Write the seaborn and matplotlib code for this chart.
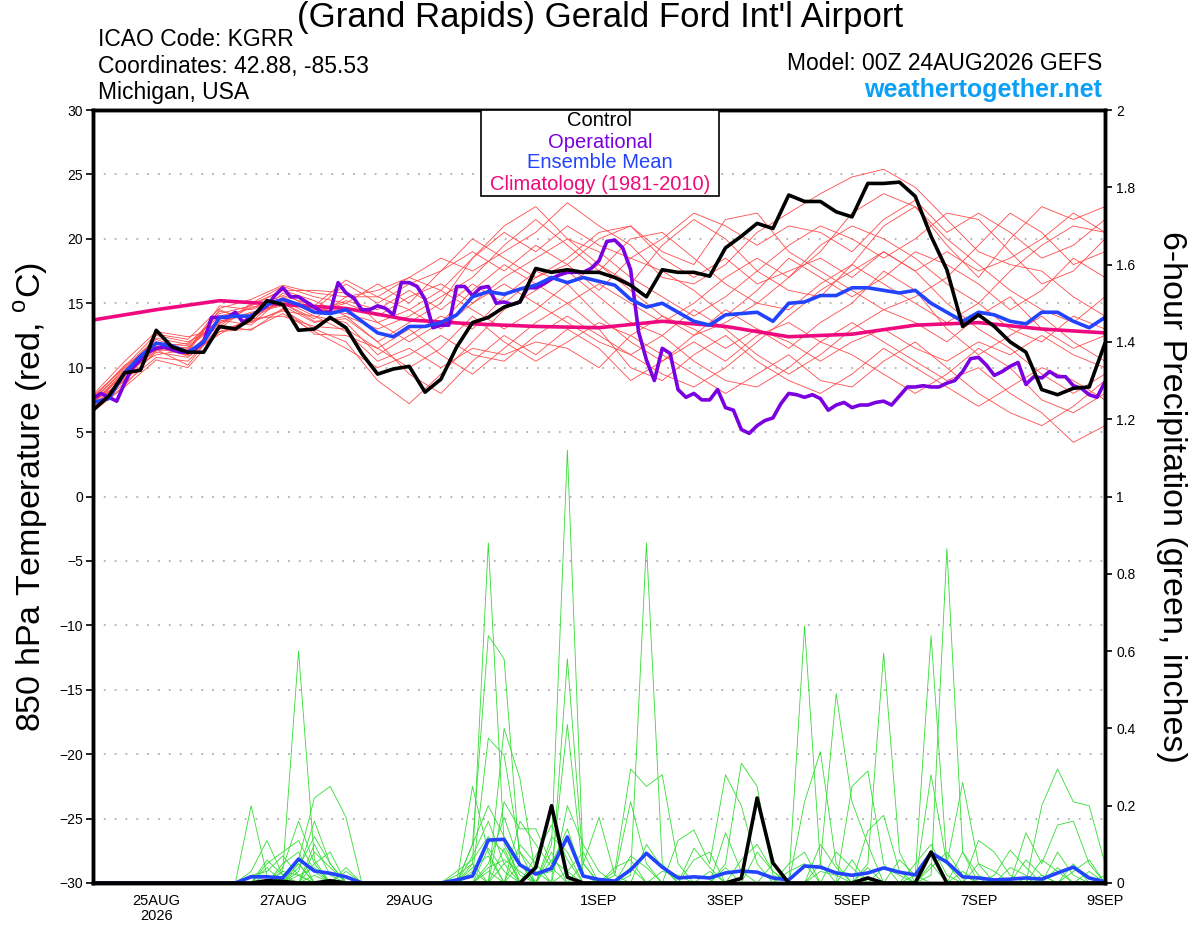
import numpy as np
import pandas as pd
import matplotlib
matplotlib.use("Agg")
import matplotlib.pyplot as plt
import seaborn as sns
from matplotlib.patches import Rectangle

# ------------------------
# 1. Data
# ------------------------
hours_3h = np.arange(0, 385, 3)
hours_6h = np.arange(0, 385, 6)
hours_12h = np.arange(0, 385, 12)
clim_hours = np.arange(0, 385, 24)

tick_hours = [24, 72, 120, 192, 240, 288, 336, 384]
tick_labels = ["25AUG\n2026", "27AUG", "29AUG", "1SEP", "3SEP", "5SEP", "7SEP", "9SEP"]

control_temp = [6.7, 7.8, 9.6, 9.8, 12.9, 11.6, 11.2, 11.2, 13.2, 13.0,
                13.8, 15.2, 14.9, 12.9, 13.0, 13.9, 13.1, 11.1, 9.5, 9.9,
                10.1, 8.1, 9.1, 11.6, 13.5, 13.9, 14.7, 15.1, 17.7, 17.4,
                17.6, 17.4, 17.4, 17.0, 16.4, 15.5, 17.6, 17.4, 17.4, 17.1,
                19.3, 20.2, 21.2, 20.8, 23.4, 22.9, 22.9, 22.1, 21.7, 24.3,
                24.3, 24.4, 23.3, 20.2, 17.6, 13.2, 14.1, 13.2, 12.0, 11.2,
                8.3, 7.9, 8.4, 8.5, 11.9]

mean_temp = [7.3, 7.6, 9.6, 10.9, 11.9, 11.7, 11.2, 12.0, 13.9, 14.0,
             14.0, 14.9, 15.3, 14.9, 14.3, 14.2, 14.5, 13.6, 12.7, 12.4,
             13.2, 13.2, 13.5, 14.1, 15.5, 15.9, 15.7, 16.1, 16.4, 17.0,
             16.6, 17.0, 16.7, 16.4, 15.3, 14.7, 15.0, 14.3, 13.6, 13.3,
             14.1, 14.2, 14.3, 13.6, 15.0, 15.1, 15.6, 15.6, 16.2, 16.2,
             16.0, 15.8, 16.0, 15.0, 14.3, 13.6, 14.3, 14.1, 13.6, 13.4,
             14.3, 14.3, 13.6, 13.1, 13.9]

oper_temp = [7.6, 8.0, 7.7, 7.4, 8.8, 10.0, 10.6, 11.2, 11.5, 11.6,
             11.4, 11.2, 11.2, 11.5, 12.0, 13.9, 13.9, 13.9, 14.3, 13.5,
             14.0, 14.4, 14.8, 15.6, 16.2, 15.5, 15.5, 15.1, 14.7, 14.3,
             14.3, 16.6, 15.8, 15.4, 14.5, 14.5, 14.8, 14.6, 14.1, 16.6,
             16.6, 16.3, 15.3, 13.1, 13.3, 13.3, 16.3, 16.3, 15.6, 16.2,
             16.3, 15.0, 15.1, 14.9, 15.1, 16.2, 16.2, 16.5, 16.9, 17.2,
             17.4, 17.4, 17.4, 17.7, 18.3, 19.8, 19.9, 19.3, 17.6, 12.8,
             10.6, 9.0, 11.5, 11.1, 8.3, 7.7, 8.0, 7.5, 7.5, 8.3,
             6.9, 6.7, 5.2, 4.9, 5.5, 5.9, 6.1, 7.2, 8.0, 7.9,
             7.7, 7.9, 7.6, 6.7, 7.1, 7.3, 6.9, 7.1, 7.1, 7.3,
             7.4, 7.1, 7.8, 8.5, 8.5, 8.6, 8.5, 8.5, 8.8, 9.0,
             9.7, 10.7, 10.8, 10.2, 9.4, 9.7, 10.1, 10.4, 8.7, 9.3,
             9.2, 9.7, 9.3, 9.3, 8.6, 8.4, 7.9, 7.7, 8.9]

clim_temp = [13.7, 14.5, 15.2, 14.9, 14.6, 13.7, 13.4, 13.2, 13.1,
             13.6, 13.2, 12.4, 12.6, 13.3, 13.5, 13.0, 12.7]

member_temp = {
    "m01": [7.0, 9.2, 11.5, 11.0, 13.5, 14.2, 15.0, 13.8, 15.5, 16.0, 17.0, 18.5, 17.5, 19.0, 20.5, 22.8, 21.0,
            19.5, 17.0, 16.5, 18.0, 20.5, 22.0, 23.5, 24.8, 25.4, 24.0, 21.5, 19.0, 18.0, 17.5, 15.5, 14.0],
    "m02": [7.8, 10.0, 12.3, 11.8, 14.2, 14.8, 16.0, 15.2, 14.0, 12.0, 13.5, 15.0, 18.5, 21.0, 22.5, 20.0, 18.0,
            16.5, 19.5, 21.5, 20.0, 17.5, 16.0, 15.5, 18.0, 21.0, 22.5, 19.5, 17.0, 20.0, 22.5, 21.5, 22.5],
    "m03": [6.8, 8.8, 10.8, 10.5, 13.0, 13.5, 14.5, 13.0, 12.0, 9.0, 7.2, 9.5, 12.0, 14.5, 16.0, 17.5, 15.5,
            13.5, 12.5, 10.5, 9.0, 8.5, 10.0, 12.0, 11.0, 9.5, 8.0, 9.5, 11.5, 10.0, 7.5, 6.5, 8.0],
    "m04": [7.5, 9.8, 12.0, 11.2, 14.5, 13.5, 15.8, 14.5, 16.5, 15.0, 16.5, 17.5, 20.0, 18.5, 17.0, 18.5, 20.5,
            21.0, 19.0, 18.0, 21.5, 22.0, 19.0, 17.5, 16.0, 14.5, 15.5, 17.0, 19.5, 22.0, 20.5, 18.0, 19.0],
    "m05": [7.2, 9.5, 11.8, 11.5, 13.8, 14.0, 15.2, 14.0, 13.5, 11.0, 12.5, 14.0, 13.0, 15.5, 17.5, 16.5, 14.0,
            12.0, 10.5, 12.5, 14.5, 13.0, 11.5, 13.5, 15.0, 17.5, 16.0, 13.0, 11.0, 12.5, 14.0, 12.0, 10.5],
    "m06": [7.4, 9.4, 12.5, 12.0, 13.2, 15.0, 16.3, 15.5, 15.0, 14.0, 15.5, 16.5, 15.0, 17.0, 18.5, 20.0, 19.0,
            17.0, 15.5, 14.0, 15.5, 17.5, 19.5, 21.0, 20.0, 18.5, 20.0, 22.0, 21.5, 19.0, 16.5, 17.5, 20.0],
    "m07": [6.9, 9.0, 11.2, 10.8, 12.8, 13.0, 14.2, 12.8, 11.5, 10.0, 11.0, 12.5, 11.0, 10.5, 12.5, 14.0, 12.5,
            11.0, 9.5, 8.5, 10.0, 12.0, 14.0, 16.0, 17.5, 19.0, 17.5, 15.0, 13.0, 11.5, 9.5, 8.0, 9.5],
    "m08": [7.6, 10.2, 11.6, 11.9, 14.0, 14.6, 15.6, 14.8, 16.8, 15.5, 14.5, 13.0, 15.0, 16.5, 15.0, 13.5, 12.0,
            11.0, 12.5, 14.5, 13.0, 11.0, 9.5, 11.0, 13.0, 14.5, 13.5, 12.0, 14.0, 15.5, 13.0, 11.5, 12.5],
    "m09": [7.1, 9.1, 12.0, 11.0, 13.6, 14.3, 14.8, 13.5, 14.0, 13.0, 14.0, 15.5, 17.0, 19.5, 21.5, 19.5, 17.5,
            20.0, 20.5, 18.5, 16.5, 15.0, 17.0, 19.0, 22.0, 23.5, 22.5, 20.0, 18.0, 16.0, 14.5, 13.5, 15.5],
    "m10": [7.3, 9.7, 11.0, 11.4, 14.4, 13.8, 14.0, 13.2, 13.0, 11.5, 10.0, 11.5, 14.0, 12.0, 10.5, 12.0, 13.5,
            12.5, 11.0, 9.5, 8.0, 9.5, 11.0, 9.0, 8.5, 10.5, 12.0, 10.0, 8.0, 6.5, 5.5, 7.0, 9.0],
    "m11": [7.9, 10.5, 12.8, 12.4, 13.0, 14.9, 16.0, 16.0, 15.8, 13.5, 12.0, 13.5, 16.0, 18.0, 16.5, 15.0, 16.5,
            15.0, 13.5, 15.0, 17.0, 18.5, 17.0, 19.5, 21.0, 20.0, 18.5, 16.5, 15.0, 17.5, 19.5, 21.0, 20.5],
    "m12": [6.7, 8.6, 11.4, 10.2, 13.3, 12.9, 14.6, 12.6, 12.5, 11.5, 13.0, 11.0, 9.5, 11.5, 13.5, 15.0, 13.0,
            10.0, 9.0, 11.0, 12.5, 10.5, 9.0, 8.0, 9.5, 11.5, 10.0, 8.5, 7.0, 8.5, 10.0, 9.0, 7.5],
    "m13": [7.5, 9.9, 12.2, 11.3, 14.8, 14.5, 15.4, 14.2, 15.2, 14.5, 16.0, 14.5, 16.5, 15.0, 17.0, 18.0, 16.0,
            18.5, 17.5, 16.0, 14.0, 16.0, 18.5, 17.0, 15.5, 17.0, 19.0, 18.0, 16.5, 14.5, 16.0, 18.5, 17.0],
    "m14": [7.0, 9.3, 11.7, 10.9, 12.6, 13.9, 15.0, 13.6, 13.8, 12.0, 9.5, 8.0, 10.5, 12.5, 11.0, 13.0, 11.5,
            9.0, 10.5, 12.0, 10.5, 12.5, 13.5, 12.0, 13.5, 12.0, 10.5, 9.0, 10.0, 8.0, 6.5, 4.2, 5.5],
    "m15": [7.7, 10.1, 12.6, 12.2, 14.6, 15.3, 16.4, 15.8, 15.5, 15.5, 17.0, 16.0, 18.5, 20.5, 19.0, 21.0, 19.5,
            18.5, 20.0, 22.0, 21.0, 19.5, 21.0, 20.5, 19.0, 21.5, 23.0, 20.5, 22.0, 20.5, 18.5, 19.5, 21.5],
    "m16": [7.2, 9.6, 11.3, 11.6, 13.4, 14.7, 15.1, 14.6, 14.2, 13.5, 14.5, 16.0, 14.5, 13.0, 14.5, 16.5, 18.0,
            16.0, 14.0, 12.5, 13.5, 15.0, 14.5, 16.5, 18.0, 16.5, 15.0, 13.5, 15.0, 13.0, 12.0, 14.0, 13.0],
    "m17": [7.4, 9.0, 11.9, 11.7, 13.7, 13.3, 15.5, 14.3, 15.0, 16.5, 15.0, 17.5, 19.0, 17.5, 19.5, 18.0, 20.0,
            21.0, 18.5, 17.0, 18.5, 16.5, 17.5, 18.5, 17.0, 19.0, 17.5, 19.0, 17.5, 18.5, 20.0, 22.0, 20.5],
    "m18": [6.6, 8.5, 10.6, 10.0, 12.8, 13.6, 14.4, 14.0, 12.8, 10.5, 11.5, 10.0, 11.5, 11.0, 12.0, 11.5, 10.0,
            12.5, 14.0, 13.0, 11.5, 13.0, 12.0, 10.5, 12.0, 13.0, 11.5, 10.5, 12.0, 11.0, 12.5, 11.0, 10.0],
}

# 6-hour precip, ensemble mean (inches)
mean_precip = [0, 0, 0, 0, 0, 0, 0, 0, 0, 0,
               0.016, 0.016, 0.013, 0.062, 0.031, 0.025, 0.016,
               0, 0, 0, 0, 0, 0,
               0.008, 0.018, 0.111, 0.113, 0.047, 0.023, 0.038, 0.119, 0.018, 0.009,
               0.005, 0.034, 0.077, 0.041, 0.013, 0.016, 0.013, 0.026, 0.031, 0.028,
               0.013, 0.008, 0.044, 0.041, 0.026, 0.020, 0.026, 0.039, 0.028, 0.021,
               0.078, 0.054, 0.016, 0.013, 0.008, 0.010, 0.013, 0.010, 0.026, 0.041,
               0.013, 0.003]

# control precip: step index -> inches (dry otherwise)
control_precip = {11: 0.006, 12: 0.004, 15: 0.006, 28: 0.04, 29: 0.2, 30: 0.015,
                  41: 0.012, 42: 0.22, 43: 0.052, 49: 0.013, 53: 0.08}

# member precip: step index -> inches (dry otherwise)
member_precip = {
    "g01": {12: 0.03, 13: 0.60, 14: 0.06, 24: 0.05, 25: 0.88, 26: 0.10, 27: 0.02, 45: 0.665, 46: 0.05, 61: 0.04},
    "g02": {10: 0.03, 11: 0.11, 12: 0.02, 29: 0.1, 30: 1.12, 31: 0.05, 52: 0.02, 53: 0.64, 54: 0.05, 60: 0.02},
    "g03": {13: 0.06, 14: 0.22, 15: 0.25, 16: 0.17, 24: 0.1, 25: 0.64, 26: 0.58, 27: 0.05, 34: 0.02, 35: 0.88,
            36: 0.05, 55: 0.03},
    "g04": {10: 0.20, 11: 0.02, 24: 0.02, 25: 0.375, 26: 0.33, 27: 0.08, 30: 0.58, 31: 0.05, 49: 0.05, 50: 0.595,
            51: 0.08, 53: 0.02, 54: 0.865, 55: 0.08},
    "g05": {12: 0.04, 13: 0.16, 14: 0.05, 26: 0.40, 27: 0.27, 28: 0.02, 29: 0.03, 30: 0.41, 31: 0.02, 46: 0.05,
            47: 0.49, 48: 0.21, 49: 0.1},
    "g06": {13: 0.03, 14: 0.16, 15: 0.05, 24: 0.25, 25: 0.08, 33: 0.03, 34: 0.295, 35: 0.25, 36: 0.28, 37: 0.05,
            40: 0.05, 41: 0.31, 42: 0.25, 43: 0.02, 60: 0.2, 61: 0.295, 62: 0.21, 63: 0.20, 64: 0.05},
    "g07": {11: 0.06, 12: 0.02, 13: 0.05, 26: 0.21, 27: 0.14, 28: 0.14, 29: 0.05, 30: 0.14, 31: 0.02, 45: 0.21,
            46: 0.34, 47: 0.05, 53: 0.28, 54: 0.05, 55: 0.26, 56: 0.05},
    "g08": {14: 0.08, 15: 0.04, 25: 0.05, 26: 0.17, 27: 0.05, 31: 0.05, 32: 0.17, 33: 0.02, 34: 0.21, 35: 0.05,
            48: 0.25, 49: 0.29, 50: 0.05, 59: 0.13, 60: 0.05, 61: 0.15, 62: 0.16, 63: 0.05},
    "g09": {12: 0.05, 13: 0.08, 23: 0.03, 24: 0.06, 25: 0.12, 26: 0.08, 29: 0.12, 30: 0.08, 37: 0.11, 38: 0.137,
            39: 0.05, 40: 0.28, 41: 0.2, 42: 0.05, 56: 0.11, 57: 0.08, 58: 0.02},
    "g10": {11: 0.04, 14: 0.05, 15: 0.08, 24: 0.04, 25: 0.07, 27: 0.1, 28: 0.05, 40: 0.13, 41: 0.03, 44: 0.05,
            45: 0.08, 49: 0.135, 50: 0.175, 51: 0.03, 57: 0.02, 58: 0.085, 59: 0.04},
    "g11": {13: 0.02, 14: 0.04, 24: 0.1, 25: 0.2, 26: 0.12, 29: 0.06, 30: 0.03, 34: 0.07, 35: 0.04, 38: 0.09,
            39: 0.04, 47: 0.08, 48: 0.04, 53: 0.04, 54: 0.08, 55: 0.02, 62: 0.03, 63: 0.06},
    "g12": {10: 0.02, 11: 0.03, 12: 0.07, 13: 0.02, 26: 0.05, 27: 0.08, 28: 0.03, 33: 0.04, 34: 0.06, 42: 0.08,
            43: 0.03, 50: 0.04, 51: 0.02, 59: 0.06, 60: 0.02},
    "g13": {11: 0.05, 12: 0.08, 13: 0.11, 14: 0.03, 24: 0.07, 25: 0.16, 26: 0.05, 30: 0.2, 31: 0.1, 32: 0.03,
            38: 0.06, 39: 0.08, 46: 0.1, 47: 0.04, 55: 0.08, 56: 0.02},
    "g14": {12: 0.01, 14: 0.02, 16: 0.04, 25: 0.04, 26: 0.06, 27: 0.03, 36: 0.03, 37: 0.02, 44: 0.03, 45: 0.05,
            52: 0.05, 53: 0.1, 54: 0.02, 62: 0.05},
    "g15": {13: 0.04, 14: 0.12, 15: 0.05, 23: 0.02, 24: 0.05, 27: 0.16, 28: 0.1, 29: 0.04, 41: 0.06, 42: 0.1,
            43: 0.03, 51: 0.06, 52: 0.02, 61: 0.08, 62: 0.02},
    "g16": {12: 0.03, 13: 0.02, 25: 0.09, 26: 0.03, 28: 0.07, 29: 0.15, 30: 0.06, 35: 0.1, 36: 0.04, 46: 0.03,
            47: 0.02, 58: 0.04, 59: 0.02, 63: 0.03},
    "g17": {11: 0.02, 14: 0.1, 15: 0.02, 25: 0.03, 27: 0.05, 30: 0.03, 31: 0.08, 34: 0.04, 40: 0.04, 48: 0.06,
            56: 0.05, 57: 0.03, 64: 0.02},
    "g18": {13: 0.05, 16: 0.03, 24: 0.03, 26: 0.09, 29: 0.08, 33: 0.02, 39: 0.03, 43: 0.05, 49: 0.04, 53: 0.05,
            60: 0.06, 61: 0.03},
}

legend_names = ["Control", "Operational", "Ensemble Mean", "Climatology (1981-2010)"]

# ------------------------
# 2. Long-form tables for seaborn
# ------------------------
temp_df = pd.concat(
    [pd.DataFrame({"hour": hours_12h, "temp": vals, "member": name}) for name, vals in member_temp.items()],
    ignore_index=True)

rows = []
for name, spikes in member_precip.items():
    for i, h in enumerate(hours_6h):
        rows.append({"hour": h, "precip": spikes.get(i, 0.0), "member": name})
precip_df = pd.DataFrame(rows)
ctrl_precip = [control_precip.get(i, 0.0) for i in range(len(hours_6h))]

# ------------------------
# 3. Plot
# ------------------------
sns.set_style("white")
plt.rcParams["font.family"] = ["Liberation Sans", "DejaVu Sans"]
plt.rcParams["mathtext.fontset"] = "custom"
plt.rcParams["mathtext.rm"] = "Liberation Sans"
for key in ("text.color", "axes.labelcolor", "xtick.color", "ytick.color"):
    plt.rcParams[key] = "black"

RED = "#ff4a4a"
GREEN = "#33dd33"
PURPLE = "#7b00e0"
BLUE = "#2244ff"
PINK = "#ee0a7e"
legend_colors = ["black", PURPLE, BLUE, PINK]

fig = plt.figure(figsize=(12, 9.27), dpi=100)
ax = fig.add_axes([93 / 1200, 1 - 883 / 927, 1012 / 1200, 773 / 927])

for yv in range(-25, 30, 5):
    ax.axhline(yv, color="#b0b0b0", lw=1.3, ls=(0, (1, 5)), zorder=0)

sns.lineplot(data=temp_df, x="hour", y="temp", units="member", estimator=None,
             color=RED, lw=0.6, ax=ax, legend=False)
sns.lineplot(x=clim_hours, y=clim_temp, color=PINK, lw=2.6, ax=ax)
sns.lineplot(x=hours_3h, y=oper_temp, color=PURPLE, lw=2.6, ax=ax)
sns.lineplot(x=hours_6h, y=mean_temp, color=BLUE, lw=2.6, ax=ax)
sns.lineplot(x=hours_6h, y=control_temp, color="black", lw=2.6, ax=ax)

ax.set_xlim(0, 384)
ax.set_ylim(-30, 30)
ax.set_yticks(range(-30, 31, 5))
ax.set_xticks(tick_hours)
ax.set_xticklabels(tick_labels, fontsize=10.5, linespacing=1.1)
ax.tick_params(axis="y", labelsize=10, direction="out", length=5, width=1.2, pad=2)
ax.tick_params(axis="x", direction="out", length=5, width=1.2, pad=3)
ax.set_xlabel("")
ax.set_ylabel("")

ax2 = ax.twinx()
sns.lineplot(data=precip_df, x="hour", y="precip", units="member", estimator=None,
             color=GREEN, lw=0.6, ax=ax2, legend=False)
sns.lineplot(x=hours_6h, y=mean_precip, color=BLUE, lw=2.6, ax=ax2)
sns.lineplot(x=hours_6h, y=ctrl_precip, color="black", lw=2.6, ax=ax2)
ax2.set_ylim(0, 2)
ax2.set_xlim(0, 384)
ax2.set_yticks(np.arange(0, 2.01, 0.2))
ax2.set_yticklabels([f"{v:g}" for v in np.round(np.arange(0, 2.01, 0.2), 1)])
ax2.tick_params(axis="y", labelsize=10, direction="out", length=5, width=1.2, pad=3)
ax2.set_ylabel("")

for a in (ax, ax2):
    for s in a.spines.values():
        s.set_linewidth(2.5)
        s.set_color("black")


def px(x, y):
    return x / 1200, 1 - y / 927


# legend box (centred coloured lines of text)
box = Rectangle(px(481, 196), 238 / 1200, 86 / 927, transform=fig.transFigure,
                facecolor="white", edgecolor="black", lw=1.2, zorder=10)
fig.add_artist(box)
for yy, name, c in zip([121, 142, 163, 185], legend_names, legend_colors):
    fig.text(*px(600, yy), name, ha="center", va="center", fontsize=14.5, color=c, zorder=11)

# header texts
fig.text(*px(600, 18), "(Grand Rapids) Gerald Ford Int'l Airport", ha="center", va="center", fontsize=25)
fig.text(*px(98, 40), "ICAO Code: KGRR", ha="left", va="center", fontsize=16.5)
fig.text(*px(98, 66), "Coordinates: 42.88, -85.53", ha="left", va="center", fontsize=16.5)
fig.text(*px(98, 93), "Michigan, USA", ha="left", va="center", fontsize=16.5)
fig.text(*px(1102, 63), "Model: 00Z 24AUG2026 GEFS", ha="right", va="center", fontsize=16.5)
fig.text(*px(1102, 90), "weathertogether.net", ha="right", va="center", fontsize=18,
         fontweight="bold", color="#0aa0f5")

fig.text(*px(31, 497), "850 hPa Temperature (red, $^{\\rm o}$C)", ha="center", va="center",
         rotation=90, fontsize=24.5)
fig.text(*px(1172, 497), "6-hour Precipitation (green, inches)", ha="center", va="center",
         rotation=-90, fontsize=24.5)

fig.savefig("out.png", dpi=100)
